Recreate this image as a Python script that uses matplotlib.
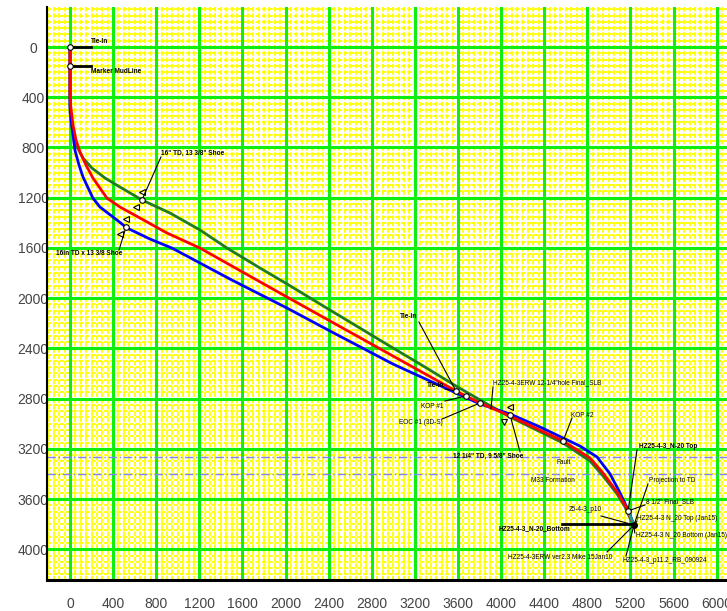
import matplotlib
matplotlib.use('Agg')
import numpy as np
import matplotlib.pyplot as plt
from matplotlib.transforms import offset_copy

plt.rcParams['font.family'] = ['Liberation Sans', 'DejaVu Sans']

# vertical section (ft) vs TVD (ft) for the three well paths
green_vs = [0, 0, 19, 56, 121, 204, 325, 464, 668, 928, 1206, 1457, 1763, 2014, 2413,
            2997, 3248, 3582, 3805, 4083, 4575, 4825, 4946, 5076, 5150, 5196, 5233]
green_tvd = [0, 518, 645, 780, 884, 964, 1043, 1115, 1218, 1322, 1457, 1601, 1760, 1887, 2095,
             2397, 2525, 2700, 2811, 2947, 3154, 3297, 3416, 3560, 3663, 3751, 3807]

red_vs = [0, 0, 9, 28, 56, 93, 148, 213, 278, 343, 464, 650, 900, 1206, 2014, 2413,
          2997, 3582, 3805, 4083, 4575, 4825, 4946, 5076, 5150, 5196, 5233]
red_tvd = [0, 400, 486, 621, 740, 836, 939, 1043, 1123, 1203, 1274, 1362, 1481, 1601, 1991, 2182,
           2461, 2740, 2835, 2939, 3138, 3273, 3393, 3544, 3648, 3743, 3807]

blue_vs = [0, 0, 9, 19, 46, 84, 121, 213, 278, 436, 529, 742, 946, 1485, 2014, 2413,
           2997, 3582, 3805, 4083, 4361, 4575, 4732, 4890, 5011, 5104, 5178, 5233]
blue_tvd = [0, 462, 565, 637, 820, 940, 1035, 1203, 1274, 1378, 1441, 1529, 1601, 1848, 2079, 2262,
            2525, 2755, 2843, 2923, 3026, 3114, 3178, 3265, 3400, 3552, 3687, 3807]

# last stretch to TD
td_vs = [5178, 5233]
td_tvd = [3695, 3807]

# survey stations marked with open circles
station_vs = [0, 0, 668, 520, 3582, 3675, 3805, 4083, 4575, 5178]
station_tvd = [0, 151, 1218, 1434, 2740, 2779, 2835, 2931, 3138, 3695]

# casing shoes (vs, tvd)
shoes = [(668, 1218), (520, 1434), (4083, 2931)]

# formation tops
fault_tvd = 3265
m33_tvd = 3400

# label text, anchor point on the path, text position, alignment, bold
labels = [
    ('16" TD, 13 3/8" Shoe', (668, 1218), (844, 844), 'left', True),
    ('16in TD x 13 3/8 Shoe', (520, 1434), (-130, 1648), 'left', True),
    ('Tie-In', (3582, 2740), (3146, 2150), 'center', True),
    ('Tie-In', (3582, 2740), (3470, 2692), 'right', True),
    ('KOP #1', (3675, 2779), (3470, 2867), 'right', False),
    ('EOC #1 (3D-S)', (3805, 2835), (3455, 2994), 'right', False),
    ('HZ25-4-3ERW 12-1/4"hole Final_SLB', (3906, 2883), (3925, 2676), 'left', False),
    ('12 1/4" TD, 9 5/8" Shoe', (4083, 2931), (3879, 3257), 'center', True),
    ('KOP #2', (4575, 3138), (4649, 2931), 'left', False),
    ('HZ25-4-3_N-20 Top', (5178, 3695), (5280, 3178), 'left', True),
    ('Projection to TD', (5233, 3807), (5373, 3456), 'left', False),
    ('8 1/2" Final_SLB', (5178, 3695), (5345, 3623), 'left', False),
    ('25-4-3_p10', (5233, 3807), (4779, 3687), 'center', False),
    ('HZ25-4-3 N_20 Top (Jan15)', (5233, 3807), (5261, 3759), 'left', False),
    ('HZ25-4-3 N_20 Bottom (Jan15)', (5233, 3807), (5252, 3894), 'left', False),
    ('HZ25-4-3ERW ver2.3 Mike 15Jan10', (5233, 3807), (4064, 4062), 'left', False),
    ('HZ25-4-3_p11.2_RB_090924', (5233, 3807), (5131, 4086), 'left', False),
]
# where each leader leaves its label
leader_start = [(844, 876), (455, 1617), (3238, 2190), (3480, 2724), (3480, 2819),
                (3452, 2963), (3925, 2708), (4176, 3225), (4658, 2955), (5261, 3209),
                (5363, 3480), (5335, 3647), (4927, 3735), (5261, 3775), (5240, 3870),
                (4983, 4022), (5159, 4054)]

xmin, xmax = -213, 6096
ymin, ymax = -319, 4245

fig = plt.figure(figsize=(7.27, 6.11), dpi=100)
ax = fig.add_axes([47 / 727, 31 / 611, 680 / 727, 573 / 611])
ax.set_xlim(xmin, xmax)
ax.set_ylim(ymax, ymin)

# graph paper: fine yellow dashes every 50 ft, green every 400 ft
fine_x = [v for v in np.arange(-200, 6100, 50) if v % 400]
fine_y = [v for v in np.arange(-300, 4250, 50) if v % 400]
ax.vlines(fine_x, ymin, ymax, color='#ffff00', lw=1.3, ls=(0, (2.5, 1.0)), zorder=0.5)
ax.hlines(fine_y, xmin, xmax, color='#ffff00', lw=1.3, ls=(0, (2.5, 1.0)), zorder=0.5)
ax.set_xticks(range(0, 6001, 400))
ax.set_yticks(range(0, 4001, 400))
ax.grid(True, color='#10ee10', lw=2.2, zorder=1)
ax.set_axisbelow(True)
ax.tick_params(length=0)
ax.tick_params(axis='x', labelsize=10, labelcolor='#444444', pad=12)
ax.tick_params(axis='y', labelsize=10, labelcolor='#444444', pad=10)
for lbl in ax.get_yticklabels():
    lbl.set_ha('center')

for s in ['top', 'right']:
    ax.spines[s].set_visible(False)
ax.spines['left'].set_linewidth(1.5)
ax.spines['bottom'].set_linewidth(2.2)

# formation lines
for t in [fault_tvd, m33_tvd]:
    ax.axhline(t, color='#7f7fff', lw=1.0, ls=(0, (6, 2, 1, 2)), zorder=1.5)
ax.text(4584, fault_tvd + 45, 'Fault', fontsize=4.7, ha='center', va='center')
ax.text(4482, m33_tvd + 56, 'M33 Formation', fontsize=4.7, ha='center', va='center')

# well paths
ax.plot(green_vs, green_tvd, color='#1e7b1e', lw=2, zorder=3)
ax.plot(blue_vs, blue_tvd, color='#0000ff', lw=2, zorder=3)
ax.plot(red_vs, red_tvd, color='#ff0000', lw=2, zorder=3)
ax.plot(td_vs, td_tvd, color='#16a08c', lw=2, zorder=3)

# tie-in and mudline ticks at the top
ax.plot([station_vs[0], 195], [station_tvd[0], station_tvd[0]], color='black', lw=2, zorder=4)
ax.plot([station_vs[1], 195], [station_tvd[1], station_tvd[1]], color='black', lw=2, zorder=4)
ax.text(195, station_tvd[0] - 15, 'Tie-In', fontsize=4.7, fontweight='bold', va='bottom')
ax.text(195, station_tvd[1] + 15, 'Marker MudLine', fontsize=4.7, fontweight='bold', va='top')

# N-20 bottom pointer
ax.plot([4565, td_vs[-1]], [3799, 3799], color='black', lw=2, zorder=4)
ax.text(3981, 3839, 'HZ25-4-3_N-20_Bottom', fontsize=4.7, fontweight='bold', va='center')

# labels with leaders
for (txt, pt, pos, ha, bold), st in zip(labels, leader_start):
    ax.plot([st[0], pt[0]], [st[1], pt[1]], color='black', lw=0.8, zorder=4)
    ax.text(pos[0], pos[1], txt, fontsize=4.7, ha=ha, va='center',
            fontweight='bold' if bold else 'normal', zorder=5)

# casing shoe symbols either side of the hole
for i, (vs, tvd) in enumerate(shoes):
    up = offset_copy(ax.transData, fig=fig, x=0, y=8, units='dots')
    dn = offset_copy(ax.transData, fig=fig, x=-6, y=-7, units='dots')
    ax.plot([vs], [tvd], marker='<', ms=5, mfc='none', mec='black', mew=0.8,
            transform=up, zorder=5)
    ax.plot([vs], [tvd], marker='v' if i == 2 else '<', ms=5, mfc='none', mec='black',
            mew=0.8, transform=dn, zorder=5)

# stations and TD point
ax.plot(station_vs, station_tvd, 'o', ms=4, mfc='white', mec='black', mew=0.8, zorder=6)
ax.plot(td_vs[-1:], td_tvd[-1:], 'o', ms=4, color='black', zorder=6)

fig.savefig('out.png', dpi=100)
